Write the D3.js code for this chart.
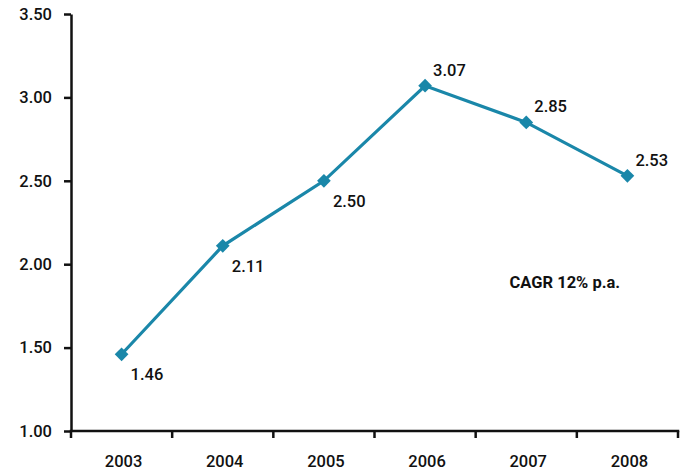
<!DOCTYPE html>
<html>
<head>
<meta charset="utf-8">
<script src="https://cdn.jsdelivr.net/npm/d3@7"></script>
<style>
  html, body { margin: 0; padding: 0; background: #fff; }
  svg { display: block; }
  svg text { font-family: Roboto, "DejaVu Sans", sans-serif; }
</style>
</head>
<body>
<svg id="chart" width="685" height="471"></svg>
<script>
// Yearly values
const years = ["2003", "2004", "2005", "2006", "2007", "2008"];
const values = [1.46, 2.11, 2.50, 3.07, 2.85, 2.53];
const yTicks = [1.00, 1.50, 2.00, 2.50, 3.00, 3.50];
// value labels below the point for the first three years, above afterwards
const labelBelow = [true, true, true, false, false, false];
const note = "CAGR 12% p.a.";

const svg = d3.select("#chart");
const plot = { left: 71, right: 678, top: 14, bottom: 431 };
const lineColor = "#1a87a9";
const ink = "#111";
const fontFamily = "Roboto, 'DejaVu Sans', sans-serif";

const x = d3.scaleBand().domain(years).range([plot.left, plot.right]);
const y = d3.scaleLinear().domain([1.0, 3.5]).range([plot.bottom, plot.top]);

// y axis
const yAxis = svg.append("g")
  .attr("transform", `translate(${plot.left},0)`)
  .call(d3.axisLeft(y).tickValues(yTicks).tickFormat(d3.format(".2f")).tickSizeInner(7).tickSizeOuter(0).tickPadding(12));
yAxis.attr("font-family", fontFamily);
yAxis.select(".domain").attr("stroke", ink).attr("stroke-width", 2.5);
yAxis.selectAll(".tick line").attr("stroke", ink).attr("stroke-width", 2.5);
yAxis.selectAll(".tick text").attr("fill", ink).attr("font-size", 16.5).attr("font-weight", 500);

// x axis: ticks sit on the band boundaries
const bounds = years.map(d => x(d)).concat([plot.right]);
const xg = svg.append("g");
xg.append("line")
  .attr("x1", plot.left - 1.25).attr("x2", plot.right + 1.25)
  .attr("y1", plot.bottom).attr("y2", plot.bottom)
  .attr("stroke", ink).attr("stroke-width", 2.5);
xg.selectAll("line.tk").data(bounds).join("line")
  .attr("class", "tk")
  .attr("x1", d => d).attr("x2", d => d)
  .attr("y1", plot.bottom).attr("y2", plot.bottom + 7)
  .attr("stroke", ink).attr("stroke-width", 2.5);
xg.selectAll("text").data(years).join("text")
  .attr("x", d => x(d) + x.bandwidth() / 2 + 2)
  .attr("y", 467)
  .attr("text-anchor", "middle")
  .attr("font-size", 16.5).attr("font-weight", 500).attr("fill", ink)
  .text(d => d);

const pts = years.map((d, i) => ({ year: d, v: values[i], below: labelBelow[i] }));
const cx = d => x(d.year) + x.bandwidth() / 2;

// line
svg.append("path")
  .datum(pts)
  .attr("d", d3.line().x(cx).y(d => y(d.v)))
  .attr("fill", "none")
  .attr("stroke", lineColor)
  .attr("stroke-width", 3.2);

// diamond markers
svg.selectAll("path.mk").data(pts).join("path")
  .attr("class", "mk")
  .attr("transform", d => `translate(${cx(d)},${y(d.v)})`)
  .attr("d", d3.symbol(d3.symbolDiamond2, 120)())
  .attr("fill", lineColor);

// value labels
svg.selectAll("text.val").data(pts).join("text")
  .attr("class", "val")
  .attr("x", d => cx(d) + (d.below ? 9 : 8))
  .attr("y", d => y(d.v) + (d.below ? 26 : -10))
  .attr("font-size", 16.5).attr("font-weight", 500).attr("fill", ink)
  .text(d => d.v.toFixed(2));

// growth note
svg.append("text")
  .attr("x", (x("2007") + x("2008") + x.bandwidth()) / 2 - 12)
  .attr("y", y(1.86))
  .attr("text-anchor", "middle")
  .attr("font-size", 16.5).attr("font-weight", 700).attr("fill", ink)
  .text(note);
</script>
</body>
</html>
